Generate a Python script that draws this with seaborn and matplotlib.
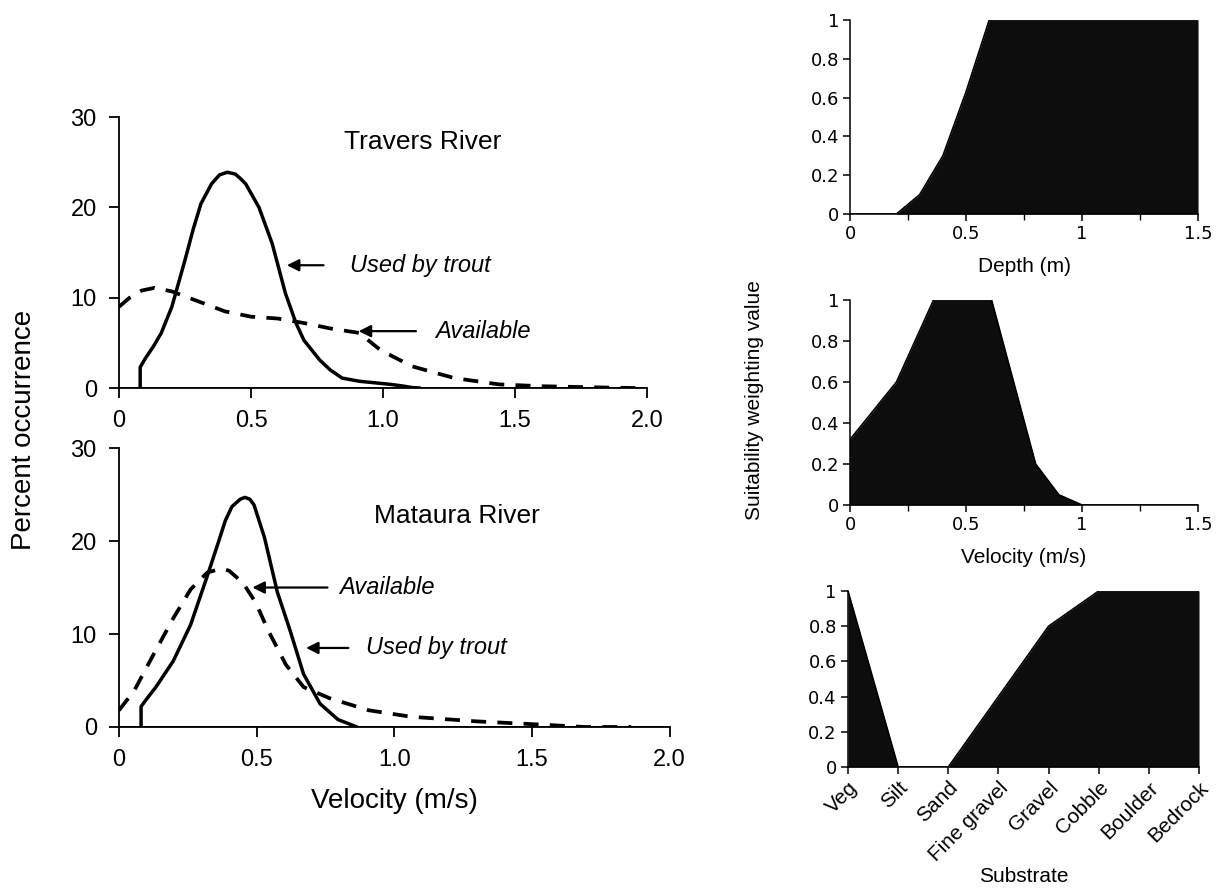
import numpy as np
import pandas as pd
import seaborn as sns
import matplotlib.pyplot as plt

# Travers River, percent occurrence vs velocity (m/s)
travers_used_v = [0.08, 0.08, 0.10, 0.13, 0.16, 0.20, 0.25, 0.28, 0.31, 0.35, 0.38, 0.41, 0.44, 0.46, 0.48, 0.53, 0.58, 0.63, 0.67, 0.70, 0.76, 0.80, 0.845, 0.91, 1.03, 1.08, 1.11, 1.14]
travers_used_pct = [0.0, 2.3, 3.3, 4.6, 6.1, 9.0, 14.2, 17.5, 20.4, 22.6, 23.6, 23.9, 23.7, 23.2, 22.6, 20.0, 16.0, 10.5, 7.2, 5.3, 3.1, 2.0, 1.1, 0.75, 0.4, 0.2, 0.05, 0.0]
travers_avail_v = [0.0, 0.04, 0.086, 0.135, 0.20, 0.30, 0.40, 0.50, 0.60, 0.70, 0.80, 0.91, 0.99, 1.11, 1.27, 1.44, 1.60, 1.85, 1.96]
travers_avail_pct = [9.0, 10.0, 10.8, 11.1, 10.7, 9.6, 8.5, 7.9, 7.7, 7.2, 6.6, 6.1, 4.2, 2.4, 1.1, 0.4, 0.2, 0.05, 0.0]

# Mataura River
mataura_used_v = [0.08, 0.08, 0.10, 0.134, 0.197, 0.26, 0.32, 0.36, 0.386, 0.41, 0.44, 0.457, 0.475, 0.49, 0.528, 0.575, 0.622, 0.67, 0.73, 0.795, 0.864]
mataura_used_pct = [0.0, 2.2, 3.0, 4.3, 7.1, 11.0, 16.2, 19.8, 22.2, 23.7, 24.5, 24.7, 24.5, 23.9, 20.4, 14.5, 10.3, 5.7, 2.5, 0.8, 0.0]
mataura_avail_v = [0.0, 0.055, 0.118, 0.197, 0.26, 0.32, 0.354, 0.38, 0.40, 0.45, 0.496, 0.543, 0.606, 0.67, 0.764, 0.906, 1.06, 1.30, 1.535, 1.69, 1.86]
mataura_avail_pct = [1.8, 3.9, 7.4, 11.7, 14.8, 16.6, 16.9, 17.0, 16.8, 15.5, 13.4, 10.3, 6.7, 4.3, 3.1, 1.8, 1.1, 0.6, 0.25, 0.0, 0.0]

# suitability curves
depth_m = [0.0, 0.2, 0.3, 0.4, 0.5, 0.6, 1.5]
depth_suit = [0.0, 0.0, 0.1, 0.3, 0.63, 1.0, 1.0]
vel_ms = [0.0, 0.0, 0.2, 0.36, 0.61, 0.8, 0.9, 1.0, 1.5]
vel_suit = [0.0, 0.32, 0.6, 1.0, 1.0, 0.2, 0.05, 0.0, 0.0]
substrates = ["Veg", "Silt", "Sand", "Fine gravel", "Gravel", "Cobble", "Boulder", "Bedrock"]
substrate_suit = [1.0, 0.0, 0.0, 0.4, 0.8, 1.0, 1.0, 1.0]

sns.set_theme(style="ticks")
plt.rcParams['font.family'] = ['Liberation Sans', 'DejaVu Sans']
plt.rcParams['text.color'] = 'black'
plt.rcParams['axes.labelcolor'] = 'black'

fig = plt.figure(figsize=(12.21, 8.91), dpi=100)

ax_t = fig.add_axes([0.0975, 0.5645, 0.4325, 0.304])
ax_b = fig.add_axes([0.0975, 0.1841, 0.451, 0.313])


def draw_velocity_panel(ax, used_v, used_p, avail_v, avail_p):
    sns.lineplot(x=used_v, y=used_p, ax=ax, color="black", lw=2.5, sort=False,
                 estimator=None, solid_joinstyle="round")
    sns.lineplot(x=avail_v, y=avail_p, ax=ax, color="black", lw=2.7, sort=False,
                 estimator=None, linestyle=(0, (4, 3)))
    ax.set_xlim(0, 2.0)
    ax.set_ylim(0, 30)
    ax.set_xticks([0, 0.5, 1.0, 1.5, 2.0])
    ax.set_xticklabels(["0", "0.5", "1.0", "1.5", "2.0"])
    ax.set_yticks([0, 10, 20, 30])
    ax.set_yticklabels(["0", "10", "20", "30"])
    ax.axhline(0, color="black", lw=2)
    sns.despine(ax=ax)
    for s in ["left", "bottom"]:
        ax.spines[s].set_linewidth(1.3)
        ax.spines[s].set_color("black")
    ax.tick_params(direction="out", length=7, width=1.3, labelsize=17, pad=9, colors="black")


draw_velocity_panel(ax_t, travers_used_v, travers_used_pct, travers_avail_v, travers_avail_pct)
draw_velocity_panel(ax_b, mataura_used_v, mataura_used_pct, mataura_avail_v, mataura_avail_pct)

arrow = dict(arrowstyle="-|>", color="black", lw=1.6, mutation_scale=18)
ax_t.text(1.15, 27.3, "Travers River", fontsize=19, ha="center", va="center")
ax_t.annotate("", xy=(0.625, 13.6), xytext=(0.785, 13.6), arrowprops=arrow)
ax_t.text(0.873, 13.6, "Used by trout", fontsize=17, style="italic", va="center")
ax_t.annotate("", xy=(0.897, 6.3), xytext=(1.135, 6.3), arrowprops=arrow)
ax_t.text(1.197, 6.3, "Available", fontsize=17, style="italic", va="center")

ax_b.text(1.226, 22.7, "Mataura River", fontsize=19, ha="center", va="center")
ax_b.annotate("", xy=(0.474, 15.0), xytext=(0.767, 15.0), arrowprops=arrow)
ax_b.text(0.80, 15.0, "Available", fontsize=17, style="italic", va="center")
ax_b.annotate("", xy=(0.669, 8.5), xytext=(0.843, 8.5), arrowprops=arrow)
ax_b.text(0.896, 8.5, "Used by trout", fontsize=17, style="italic", va="center")

ax_b.set_xlabel("Velocity (m/s)", fontsize=20, labelpad=12)
fig.text(0.02, 0.517, "Percent occurrence", rotation=90, fontsize=20, ha="center", va="center")

# right-hand suitability panels
ax_d = fig.add_axes([0.6962, 0.7598, 0.285, 0.2178])
ax_v = fig.add_axes([0.6962, 0.4332, 0.285, 0.2301])
ax_s = fig.add_axes([0.6945, 0.1392, 0.2875, 0.1975])

fill_col = "#0d0d0d"


def draw_suit_panel(ax, x, y):
    ax.fill_between(x, y, 0, color=fill_col, lw=0)
    sns.lineplot(x=x, y=y, ax=ax, color="black", lw=1.2, sort=False, estimator=None)
    ax.set_ylim(0, 1)
    ax.set_yticks([0, 0.2, 0.4, 0.6, 0.8, 1])
    ax.set_yticklabels(["0", "0.2", "0.4", "0.6", "0.8", "1"], family="DejaVu Sans")
    sns.despine(ax=ax)
    for s in ["left", "bottom"]:
        ax.spines[s].set_linewidth(1.1)
        ax.spines[s].set_color("black")
    ax.tick_params(direction="out", length=5, width=1.1, labelsize=13, pad=3, colors="black")


draw_suit_panel(ax_d, depth_m, depth_suit)
draw_suit_panel(ax_v, vel_ms, vel_suit)
for ax in (ax_d, ax_v):
    ax.set_xlim(0, 1.5)
    ax.set_xticks([0, 0.5, 1, 1.5])
    ax.set_xticklabels(["0", "0.5", "1", "1.5"], family="DejaVu Sans")
    ax.set_xticks([0.25, 0.75, 1.25], minor=True)
    ax.tick_params(axis="x", which="minor", direction="out", length=4, width=1, colors="black")
ax_d.set_xlabel("Depth (m)", fontsize=15, labelpad=10)
ax_v.set_xlabel("Velocity (m/s)", fontsize=15, labelpad=10)

sub_x = list(range(len(substrates)))
draw_suit_panel(ax_s, sub_x, substrate_suit)
ax_s.set_xlim(0, len(substrates) - 1)
ax_s.set_xticks(sub_x)
ax_s.set_xticklabels(substrates, rotation=45, ha="right", rotation_mode="anchor", fontsize=15)
ax_s.set_xlabel("Substrate", fontsize=15, labelpad=2)

fig.text(0.618, 0.551, "Suitability weighting value", rotation=90, fontsize=15, ha="center", va="center")

fig.savefig("out.png", dpi=100)
